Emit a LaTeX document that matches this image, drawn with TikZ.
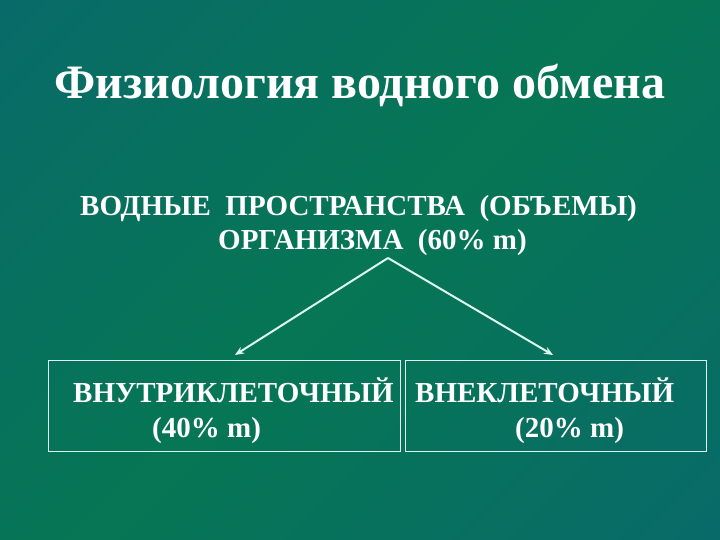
\documentclass[tikz,border=0pt]{standalone}
\usepackage{fontspec}
\setmainfont{Liberation Serif}
\usetikzlibrary{arrows.meta,positioning}
\definecolor{slideteal}{RGB}{10,102,114}
\definecolor{slidegreen}{RGB}{6,118,84}
\definecolor{paleline}{RGB}{220,248,240}
\pgfdeclarehorizontalshading{slidebg}{100bp}{color(0bp)=(slideteal); color(50bp)=(slidegreen); color(100bp)=(slideteal)}

\begin{document}
\begin{tikzpicture}[
    x=1bp, y=-1bp,
    heading/.style={anchor=base west, inner sep=0pt, text=white, font=\bfseries\fontsize{48bp}{52bp}\selectfont},
    slidetext/.style={anchor=base west, inner sep=0pt, text=white, font=\bfseries\fontsize{29bp}{34bp}\selectfont},
    cellbox/.style={draw=paleline, line width=1.3bp, anchor=north west, minimum height=91bp, inner sep=0pt},
    arrow/.style={-{Stealth[length=9bp,width=7.5bp]}, draw=paleline, line width=2bp}
]
\shade[shading=slidebg, shading angle=-45] (0,0) rectangle (720,540);
\useasboundingbox (0,0) rectangle (720,540);

\node[heading] (title) at (54,99) {Физиология водного обмена};

\node[slidetext] (spaces) at (80,216) {ВОДНЫЕ\ \ ПРОСТРАНСТВА\ \ (ОБЪЕМЫ)};
\node[slidetext] (organism) at (218,250) {ОРГАНИЗМА\ \ (60\% m)};

\node[cellbox, minimum width=352bp] (icell) at (48,360) {};
\node[cellbox, minimum width=301bp] (ecell) at (405,360) {};

\node[slidetext] (icelltxt) at (73,402) {ВНУТРИКЛЕТОЧНЫЙ};
\node[slidetext] (icellpct) at (152,437) {(40\% m)};
\node[slidetext] (ecelltxt) at (415,402) {ВНЕКЛЕТОЧНЫЙ};
\node[slidetext] (ecellpct) at (515,437) {(20\% m)};

\coordinate (split) at (388,258);
\coordinate (itop) at (235,355);
\coordinate (etop) at (553,355);
\draw[arrow] (split) -- (itop);
\draw[arrow] (split) -- (etop);

\end{tikzpicture}
\end{document}
